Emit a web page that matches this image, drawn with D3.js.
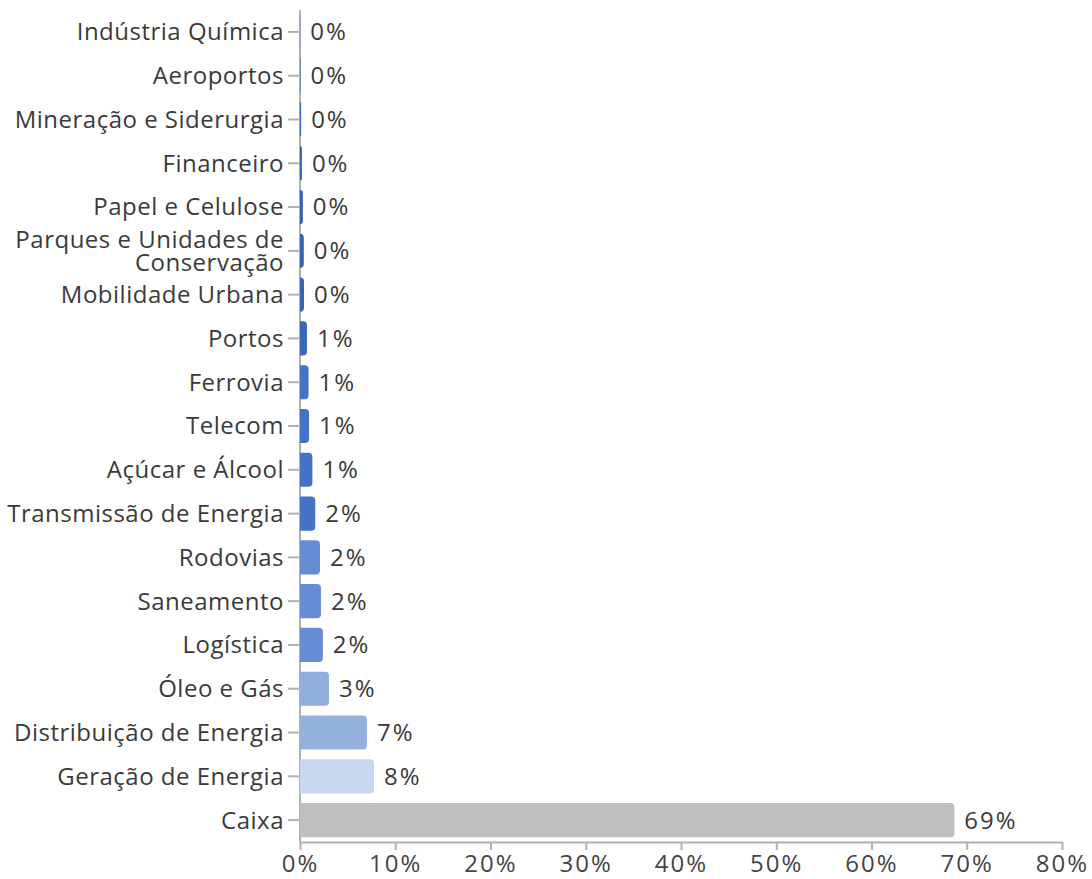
<!DOCTYPE html>
<html lang="pt">
<head>
<meta charset="UTF-8">
<title>Alocação por setor</title>
<script src="https://d3js.org/d3.v7.min.js"></script>
<style>
    body { margin: 0; background: #fff; }
    svg text { font-family: "Open Sans", sans-serif; fill: #3a3a3a; }
    .axis path, .axis line { stroke: #b0b0b0; stroke-width: 2px; }
</style>
</head>
<body>
<svg id="chart" width="1092" height="879"></svg>
<script>
// setores, de cima para baixo
const categories = [
    'Indústria Química', 'Aeroportos', 'Mineração e Siderurgia', 'Financeiro',
    'Papel e Celulose', 'Parques e Unidades de Conservação', 'Mobilidade Urbana',
    'Portos', 'Ferrovia', 'Telecom', 'Açúcar e Álcool', 'Transmissão de Energia',
    'Rodovias', 'Saneamento', 'Logística', 'Óleo e Gás', 'Distribuição de Energia',
    'Geração de Energia', 'Caixa'
];
// participação (%)
const values = [0.02, 0.05, 0.12, 0.2, 0.3, 0.4, 0.42, 0.73, 0.9, 0.95, 1.3, 1.6,
    2.1, 2.2, 2.4, 3.05, 7.03, 7.77, 68.7];
const barColors = ['#3461b0', '#3461b0', '#3461b0', '#3461b0', '#3461b0', '#3864b4', '#3864b4',
    '#3b67b9', '#4472c4', '#4472c4', '#4472c4', '#4472c4',
    '#668dd3', '#668dd3', '#668dd3', '#92aedd', '#95b1de', '#c8d7ef', '#bfbfbf'];
const xTicks = [0, 10, 20, 30, 40, 50, 60, 70, 80];

const data = categories.map((c, i) => ({ name: c, value: values[i], color: barColors[i] }));

const margin = { top: 10, left: 300, right: 30, bottom: 37 };
const W = 1092, H = 879;
const svg = d3.select('#chart');

const x = d3.scaleLinear().domain([0, 80]).range([margin.left, W - margin.right]);
const y = d3.scaleBand().domain(categories).range([margin.top, H - margin.bottom]).paddingInner(0.22).paddingOuter(0.11);

// barras com canto arredondado só na ponta
function barPath(x0, x1, y0, h, r) {
    const w = x1 - x0;
    r = Math.min(r, w, h / 2);
    return `M${x0},${y0}H${x1 - r}Q${x1},${y0} ${x1},${y0 + r}V${y0 + h - r}Q${x1},${y0 + h} ${x1 - r},${y0 + h}H${x0}Z`;
}

// eixo y
const yAxis = svg.append('g')
    .attr('class', 'axis')
    .attr('transform', `translate(${margin.left},0)`)
    .call(d3.axisLeft(y).tickSize(12).tickSizeOuter(0).tickFormat(''));
yAxis.select('.domain').attr('d', `M0,${margin.top}V${H - margin.bottom}`);

svg.append('g').selectAll('path')
    .data(data)
    .join('path')
    .attr('d', d => barPath(x(0), x(d.value), y(d.name), y.bandwidth(), 4))
    .attr('fill', d => d.color);

// rótulos das categorias
svg.append('g').selectAll('text')
    .data(data)
    .join('text')
    .attr('x', margin.left - 16)
    .attr('y', d => y(d.name) + y.bandwidth() / 2)
    .attr('text-anchor', 'end')
    .style('font-size', '24px')
    .style('letter-spacing', '0.5px')
    .each(function(d) {
        const t = d3.select(this);
        const lines = d.name === 'Parques e Unidades de Conservação'
            ? ['Parques e Unidades de', 'Conservação'] : [d.name];
        lines.forEach((l, i) => {
            t.append('tspan')
                .attr('x', margin.left - 16)
                .attr('dy', i === 0 ? (lines.length > 1 ? '-0.12em' : '0.35em') : '0.95em')
                .text(l);
        });
    });

// rótulos de valor
svg.append('g').selectAll('text')
    .data(data)
    .join('text')
    .attr('x', d => x(d.value) + 10)
    .attr('y', d => y(d.name) + y.bandwidth() / 2)
    .attr('dy', '0.35em')
    .style('font-size', '24px')
    .style('letter-spacing', '2px')
    .text(d => Math.round(d.value) + '%');

// eixo x
const xAxis = svg.append('g')
    .attr('class', 'axis')
    .attr('transform', `translate(0,${H - margin.bottom})`)
    .call(d3.axisBottom(x).tickValues(xTicks).tickSize(8).tickSizeOuter(0).tickFormat(d => d + '%'));
xAxis.selectAll('text')
    .style('font-size', '24px')
    .style('letter-spacing', '2px')
    .style('fill', '#444')
    .attr('dy', '0.8em');
</script>
</body>
</html>
